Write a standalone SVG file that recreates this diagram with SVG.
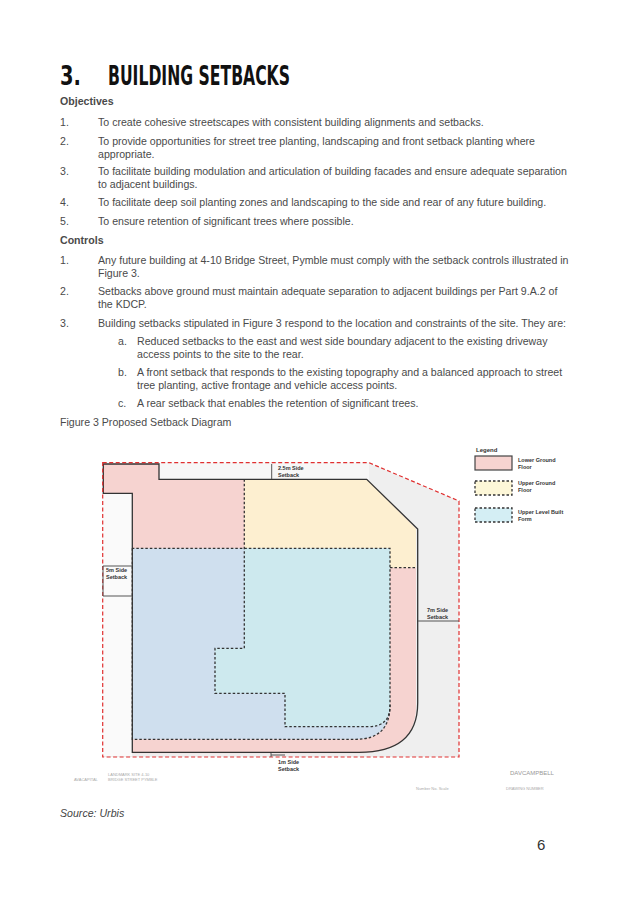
<svg xmlns="http://www.w3.org/2000/svg" width="638" height="900" viewBox="0 0 638 900">
<style>
.b{font-family:"Liberation Sans",Arial,sans-serif;font-size:10.6px;fill:#4a4a4a}
.h{font-family:"Liberation Sans",Arial,sans-serif;font-size:10.6px;font-weight:bold;fill:#4a4a4a}
.l{font-family:"Liberation Sans",Arial,sans-serif;font-size:5.5px;font-weight:bold;fill:#333}
.g{font-family:"Liberation Sans",Arial,sans-serif;font-size:4px;fill:#aaa}
.dash{fill:none;stroke:#333;stroke-width:1.3;stroke-dasharray:2.5,2}
</style>
<rect width="638" height="900" fill="#fff"/>
<g font-family="'DejaVu Sans Condensed','DejaVu Sans',sans-serif" font-weight="bold" fill="#111">
<text x="60" y="85" font-size="27" transform="translate(60,85) scale(0.8,1) translate(-60,-85)">3.</text>
<text x="108" y="85" font-size="27" textLength="182" lengthAdjust="spacingAndGlyphs">BUILDING SETBACKS</text>
</g>
<text class="h" x="60" y="105">Objectives</text>
<g class="b">
<text x="60" y="126">1.</text><text x="98" y="126">To create cohesive streetscapes with consistent building alignments and setbacks.</text>
<text x="60" y="145">2.</text><text x="98" y="145">To provide opportunities for street tree planting, landscaping and front setback planting where</text><text x="98" y="158">appropriate.</text>
<text x="60" y="175">3.</text><text x="98" y="175">To facilitate building modulation and articulation of building facades and ensure adequate separation</text><text x="98" y="188">to adjacent buildings.</text>
<text x="60" y="206">4.</text><text x="98" y="206">To facilitate deep soil planting zones and landscaping to the side and rear of any future building.</text>
<text x="60" y="225">5.</text><text x="98" y="225">To ensure retention of significant trees where possible.</text>
</g>
<text class="h" x="60" y="244">Controls</text>
<g class="b">
<text x="60" y="264">1.</text><text x="98" y="264">Any future building at 4-10 Bridge Street, Pymble must comply with the setback controls illustrated in</text><text x="98" y="277">Figure 3.</text>
<text x="60" y="295">2.</text><text x="98" y="295">Setbacks above ground must maintain adequate separation to adjacent buildings per Part 9.A.2 of</text><text x="98" y="308">the KDCP.</text>
<text x="60" y="327">3.</text><text x="98" y="327">Building setbacks stipulated in Figure 3 respond to the location and constraints of the site. They are:</text>
<text x="118" y="345">a.</text><text x="137" y="345">Reduced setbacks to the east and west side boundary adjacent to the existing driveway</text><text x="137" y="358">access points to the site to the rear.</text>
<text x="118" y="376">b.</text><text x="137" y="376">A front setback that responds to the existing topography and a balanced approach to street</text><text x="137" y="389">tree planting, active frontage and vehicle access points.</text>
<text x="118" y="407">c.</text><text x="137" y="407">A rear setback that enables the retention of significant trees.</text>
<text x="60" y="426">Figure 3 Proposed Setback Diagram</text>
</g>
<g id="site">
<polygon points="102.7,462.7 369,462.7 459,501 459,757 102.7,757" fill="#efefef"/>
<rect x="103" y="463" width="29" height="293" fill="#fafafa"/>
<rect x="159" y="463" width="210" height="16" fill="#f7f7f7"/>
</g>
<g id="lower-ground">
<path d="M132.3,493.3 V479.3 H366.7 L416,529 V703 Q417.7,753.3 356.7,753.3 H132.3 Z" fill="#f6d3d0"/>
<rect x="103.3" y="464" width="55.7" height="29.3" fill="#f6d3d0"/>
</g>
<g id="upper-ground">
<path d="M244.3,479.3 H366.7 L416,529 V567.7 H390 V548.3 H244.3 Z" fill="#fdefd0"/>
</g>
<g id="upper-level">
<path d="M132.3,548.3 H390 V705 Q390,739.3 356,739.3 H132.3 Z" fill="#cfdfee"/>
<path d="M244.3,548.3 H390 V706 Q390,726.7 368,726.7 H285 V693.3 H215 V648.3 H244.3 Z" fill="#cde9ee"/>
</g>
<g id="outlines">
<path d="M244.3,479.3 V648.3 H215 V693.3 H285 V726.7 H368 Q390,726.7 390,706 V548.3 H132.3" class="dash"/>
<path d="M132.3,548.3 V739.3 H356 Q390,739.3 390,705" class="dash"/>
<path d="M390,567.7 H416" class="dash"/>
<path d="M132.3,493.3 V752.3 H356.7 Q417.7,753.3 417.7,703 V529 L366.7,479.3 H159 V464 H103.3 V493.3 Z M103.3,493.3 H132.3" fill="none" stroke="#333" stroke-width="1.3"/>
<polygon points="102.7,462.7 369,462.7 459,501 459,757 102.7,757" fill="none" stroke="#e03030" stroke-width="1.2" stroke-dasharray="4,2.5"/>
</g>
<g id="connectors" stroke="#555" stroke-width="1" fill="none">
<path d="M271.7,464 V479"/>
<path d="M103,566 H132 M103,596 H132 M103,566 V596"/>
<path d="M418,621 H459"/>
<path d="M271,757 V753 M271,755 H285"/>
</g>
<g id="labels">
<text class="l" x="278" y="470">2.5m Side</text><text class="l" x="278" y="477">Setback</text>
<text class="l" x="106" y="572">5m Side</text><text class="l" x="106" y="579">Setback</text>
<text class="l" x="427" y="612">7m Side</text><text class="l" x="427" y="619">Setback</text>
<text class="l" x="278" y="764">1m Side</text><text class="l" x="278" y="771">Setback</text>
</g>
<g id="legend">
<text x="476" y="452" font-family="'Liberation Sans',sans-serif" font-size="6" font-weight="bold" fill="#333">Legend</text>
<rect x="475" y="456" width="37" height="14" fill="#f6d3d0" stroke="#444" stroke-width="1.2"/>
<text class="l" x="518" y="462">Lower Ground</text><text class="l" x="518" y="469">Floor</text>
<rect x="475" y="481" width="37" height="14" class="dash" style="fill:#fdf7d8"/>
<text class="l" x="518" y="485">Upper Ground</text><text class="l" x="518" y="492">Floor</text>
<rect x="475" y="508" width="37" height="14" class="dash" style="fill:#d4eef4"/>
<text class="l" x="518" y="514">Upper Level Built</text><text class="l" x="518" y="521">Form</text>
</g>
<g id="footer">
<text class="g" x="74" y="781">AVACAPITAL</text>
<text class="g" x="108" y="776">LANDMARK SITE 4-10</text><text class="g" x="108" y="781">BRIDGE STREET PYMBLE</text>
<text x="510" y="775" font-family="'Liberation Sans',sans-serif" font-size="6" fill="#999">DAVCAMPBELL</text>
<text class="g" x="416" y="790">Number   No.   Scale</text>
<text class="g" x="506" y="790">DRAWING NUMBER</text>
</g>
<text x="60" y="817" font-family="'Liberation Sans',Arial,sans-serif" font-size="10.6" font-style="italic" fill="#444">Source: Urbis</text>
<text x="537" y="850" font-family="'Liberation Sans',Arial,sans-serif" font-size="15" fill="#333">6</text>
</svg>
